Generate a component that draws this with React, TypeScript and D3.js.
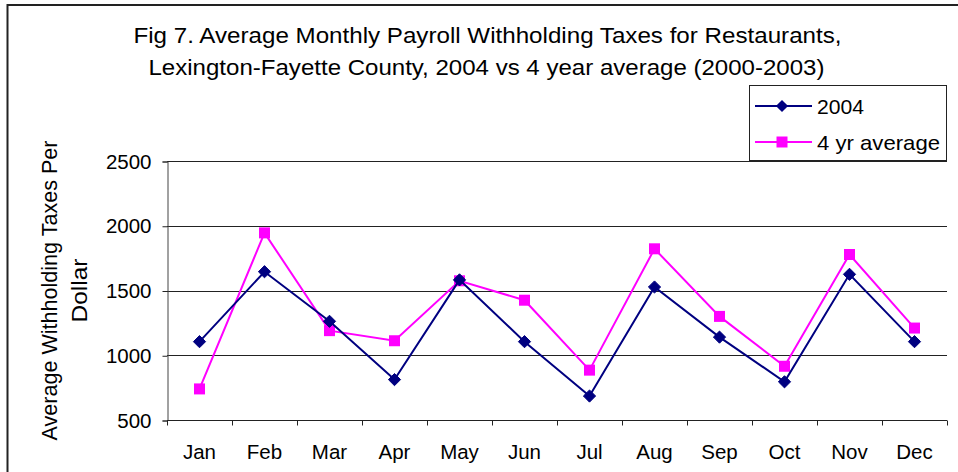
import React, { useEffect, useRef } from 'react';
import * as d3 from 'd3';

const months = ['Jan', 'Feb', 'Mar', 'Apr', 'May', 'Jun', 'Jul', 'Aug', 'Sep', 'Oct', 'Nov', 'Dec'];
const taxes2004 = [1105, 1645, 1262, 812, 1582, 1105, 685, 1527, 1140, 795, 1625, 1105];
const taxesAvg = [740, 1945, 1190, 1112, 1575, 1425, 885, 1822, 1300, 915, 1778, 1210];
const yTicks = [500, 1000, 1500, 2000, 2500];

const FONT = '"Liberation Sans", Arial, sans-serif';

const App = () => {
  const ref = useRef<SVGSVGElement>(null);

  useEffect(() => {
    const W = 958, H = 472;
    const plot = { left: 167, right: 947, top: 161, bottom: 420 };

    const svg = d3.select(ref.current);
    svg.selectAll('*').remove();
    svg.attr('width', W).attr('height', H).style('font-family', FONT);

    svg.append('rect').attr('width', W).attr('height', H).attr('fill', '#fff');

    // outer chart border (cropped on the right and bottom)
    svg.append('path')
      .attr('d', `M7.5,${H} V5 H${W}`)
      .attr('fill', 'none')
      .attr('stroke', '#222')
      .attr('stroke-width', 2);

    // title (the original text is slightly wide, so stretch to its measured width)
    const title = svg.append('text')
      .attr('text-anchor', 'middle')
      .attr('font-size', 22)
      .attr('fill', '#000');
    title.append('tspan').attr('x', 487.5).attr('y', 43)
      .attr('textLength', 708).attr('lengthAdjust', 'spacingAndGlyphs')
      .text('Fig 7. Average Monthly Payroll Withholding Taxes for Restaurants,');
    title.append('tspan').attr('x', 486.5).attr('y', 75)
      .attr('textLength', 676).attr('lengthAdjust', 'spacingAndGlyphs')
      .text('Lexington-Fayette County, 2004 vs 4 year average (2000-2003)');

    const x = d3.scaleBand()
      .domain(months)
      .range([plot.left, plot.right]);

    const y = d3.scaleLinear()
      .domain([500, 2500])
      .range([plot.bottom, plot.top]);

    // gridlines
    svg.append('g')
      .selectAll('line')
      .data(yTicks)
      .enter()
      .append('line')
      .attr('x1', plot.left)
      .attr('x2', plot.right)
      .attr('y1', d => Math.round(y(d)) + 0.5)
      .attr('y2', d => Math.round(y(d)) + 0.5)
      .attr('stroke', '#222')
      .attr('stroke-width', 1);

    // y axis
    const yAxis = svg.append('g')
      .attr('transform', `translate(${plot.left + 0.5},0.5)`)
      .call(d3.axisLeft(y).tickValues(yTicks).tickSize(5).tickPadding(11).tickFormat(d3.format('d')));
    yAxis.select('.domain').attr('stroke', '#444');
    yAxis.selectAll('.tick line').attr('stroke', '#222');
    yAxis.selectAll('.tick text')
      .attr('font-size', 20.5)
      .attr('font-family', FONT)
      .attr('fill', '#000');

    // x axis: ticks on category boundaries
    const xAxisG = svg.append('g').attr('transform', `translate(0,${Math.round(plot.bottom) + 0.5})`);
    xAxisG.append('line')
      .attr('x1', plot.left)
      .attr('x2', plot.right)
      .attr('stroke', '#222');
    const bounds = months.map(m => x(m)!).concat([plot.right]);
    xAxisG.selectAll('.xt')
      .data(bounds)
      .enter()
      .append('line')
      .attr('class', 'xt')
      .attr('x1', d => Math.round(d) + 0.5)
      .attr('x2', d => Math.round(d) + 0.5)
      .attr('y1', 0)
      .attr('y2', 5)
      .attr('stroke', '#222');
    xAxisG.selectAll('.xl')
      .data(months)
      .enter()
      .append('text')
      .attr('class', 'xl')
      .attr('x', d => x(d)! + x.bandwidth() / 2)
      .attr('y', 38)
      .attr('text-anchor', 'middle')
      .attr('font-size', 20.5)
      .attr('fill', '#000')
      .text(d => d);

    // y axis title
    const yTitle = svg.append('text')
      .attr('transform', `translate(49.5,${(plot.top + plot.bottom) / 2}) rotate(-90)`)
      .attr('text-anchor', 'middle')
      .attr('font-size', 22)
      .attr('fill', '#000');
    yTitle.append('tspan').attr('x', 0).attr('y', 7)
      .attr('textLength', 300).attr('lengthAdjust', 'spacingAndGlyphs')
      .text('Average Withholding Taxes Per');
    yTitle.append('tspan').attr('x', 0).attr('y', 37)
      .attr('textLength', 64).attr('lengthAdjust', 'spacingAndGlyphs')
      .text('Dollar');

    const cx = (m: string) => x(m)! + x.bandwidth() / 2;

    const line = d3.line<number>()
      .x((_, i) => cx(months[i]))
      .y(d => y(d));

    const diamond = d3.symbol().type(d3.symbolDiamond2).size(95);
    const square = d3.symbol().type(d3.symbolSquare).size(121);

    // 4 yr average series
    svg.append('path')
      .datum(taxesAvg)
      .attr('d', line)
      .attr('fill', 'none')
      .attr('stroke', '#ff00ff')
      .attr('stroke-width', 2);
    svg.selectAll('.sq')
      .data(taxesAvg)
      .enter()
      .append('path')
      .attr('class', 'sq')
      .attr('d', square)
      .attr('transform', (d, i) => `translate(${cx(months[i])},${y(d)})`)
      .attr('fill', '#ff00ff');

    // 2004 series
    svg.append('path')
      .datum(taxes2004)
      .attr('d', line)
      .attr('fill', 'none')
      .attr('stroke', '#000080')
      .attr('stroke-width', 2);
    svg.selectAll('.dm')
      .data(taxes2004)
      .enter()
      .append('path')
      .attr('class', 'dm')
      .attr('d', diamond)
      .attr('transform', (d, i) => `translate(${cx(months[i])},${y(d)})`)
      .attr('fill', '#000080')
      .attr('stroke', '#000080')
      .attr('stroke-width', 1);

    // legend
    const lg = svg.append('g');
    lg.append('rect')
      .attr('x', 749.5)
      .attr('y', 85.5)
      .attr('width', 197)
      .attr('height', 75)
      .attr('fill', '#fff')
      .attr('stroke', '#222');
    const legendItems = [
      { label: '2004', len: 47, color: '#000080', sym: diamond, yy: 106 },
      { label: '4 yr average', len: 123, color: '#ff00ff', sym: square, yy: 142 },
    ];
    legendItems.forEach(it => {
      lg.append('line')
        .attr('x1', 755).attr('x2', 812)
        .attr('y1', it.yy).attr('y2', it.yy)
        .attr('stroke', it.color).attr('stroke-width', 2);
      lg.append('path')
        .attr('d', it.sym)
        .attr('transform', `translate(782,${it.yy})`)
        .attr('fill', it.color);
      lg.append('text')
        .attr('x', 817)
        .attr('y', it.yy + 8)
        .attr('font-size', 21)
        .attr('textLength', it.len)
        .attr('lengthAdjust', 'spacingAndGlyphs')
        .attr('fill', '#000')
        .text(it.label);
    });
  }, []);

  return (
    <div>
      <style>{`body{margin:0}`}</style>
      <svg ref={ref} style={{ display: 'block' }}></svg>
    </div>
  );
};

export default App;
